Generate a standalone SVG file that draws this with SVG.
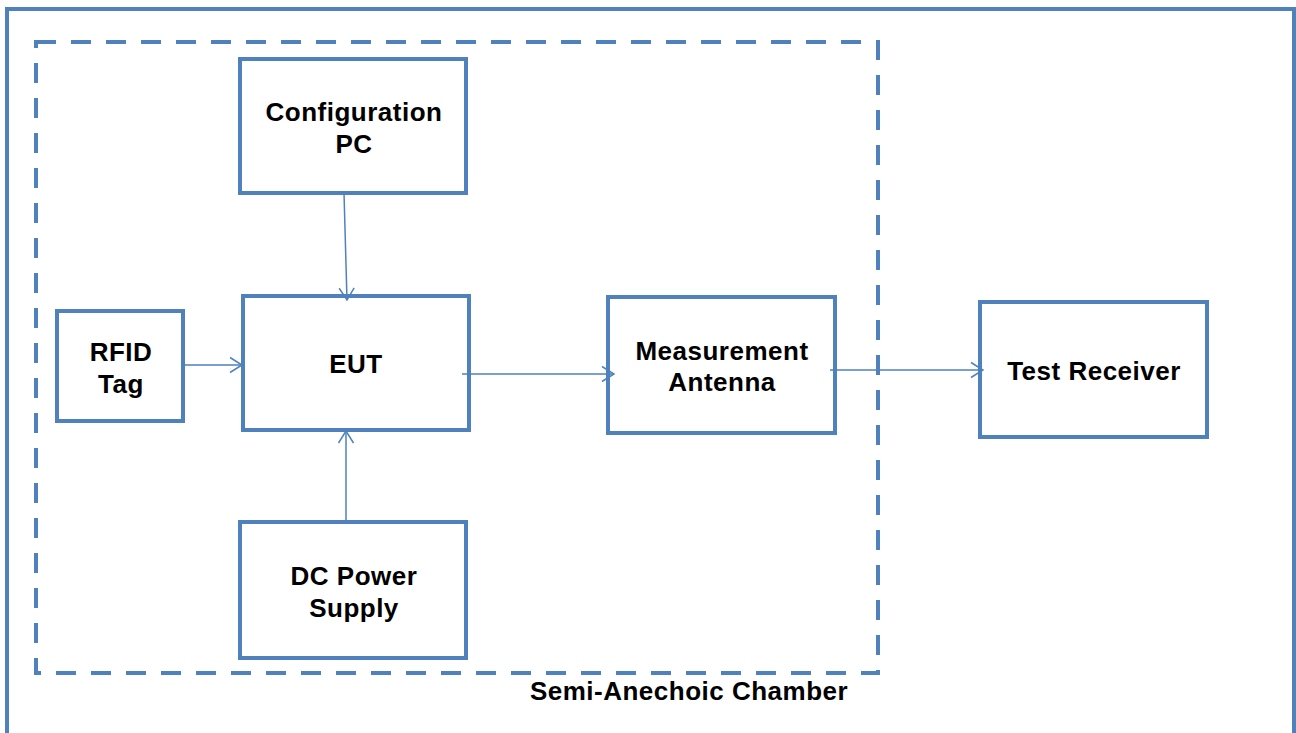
<svg xmlns="http://www.w3.org/2000/svg" width="1296" height="733" viewBox="0 0 1296 733">
<defs>
<style>
.box{fill:#fff;stroke:#4F81BD;stroke-width:4}
.frame{fill:none;stroke:#4F81BD;stroke-width:4}
.dash{fill:none;stroke:#4F81BD;stroke-width:4;stroke-dasharray:20 15}
.conn{fill:none;stroke:#4F81BD;stroke-width:1.5;marker-end:url(#arr)}
text{font-family:"Liberation Sans",Arial,sans-serif;font-weight:bold;font-size:26px;letter-spacing:0.5px;fill:#000;text-anchor:middle}
</style>
<marker id="arr" viewBox="0 0 14 18" refX="13" refY="9" markerWidth="14" markerHeight="18" markerUnits="userSpaceOnUse" orient="auto">
<path d="M1,1.5 L13,9 L1,16.5" fill="none" stroke="#4F81BD" stroke-width="1.5"/>
</marker>
</defs>
<rect width="1296" height="733" fill="#fff"/>
<rect class="frame" x="7" y="9" width="1287" height="740"/>
<rect class="dash" x="36" y="42" width="842" height="631"/>
<text x="689" y="700">Semi-Anechoic Chamber</text>
<g id="config-pc"><rect class="box" x="240" y="59" width="226" height="134"/><text x="354" y="121">Configuration</text><text x="354" y="153">PC</text></g>
<g id="rfid-tag"><rect class="box" x="57" y="311" width="126" height="110"/><text x="121" y="361">RFID</text><text x="121" y="393">Tag</text></g>
<g id="eut"><rect class="box" x="243" y="296" width="226" height="134"/><text x="356" y="373">EUT</text></g>
<g id="measurement-antenna"><rect class="box" x="608" y="297" width="227" height="136"/><text x="722" y="360">Measurement</text><text x="722" y="391">Antenna</text></g>
<g id="test-receiver"><rect class="box" x="980" y="302" width="227" height="135"/><text x="1094" y="380">Test Receiver</text></g>
<g id="dc-power-supply"><rect class="box" x="240" y="522" width="226" height="136"/><text x="354" y="585">DC Power</text><text x="354" y="617">Supply</text></g>
<g id="connectors">
<line class="conn" x1="344" y1="193" x2="347" y2="300"/>
<line class="conn" x1="181" y1="365" x2="242" y2="365"/>
<line class="conn" x1="462" y1="374" x2="614" y2="374"/>
<line class="conn" x1="830" y1="370" x2="983" y2="370"/>
<line class="conn" x1="346" y1="522" x2="346" y2="431"/>
</g>
</svg>
